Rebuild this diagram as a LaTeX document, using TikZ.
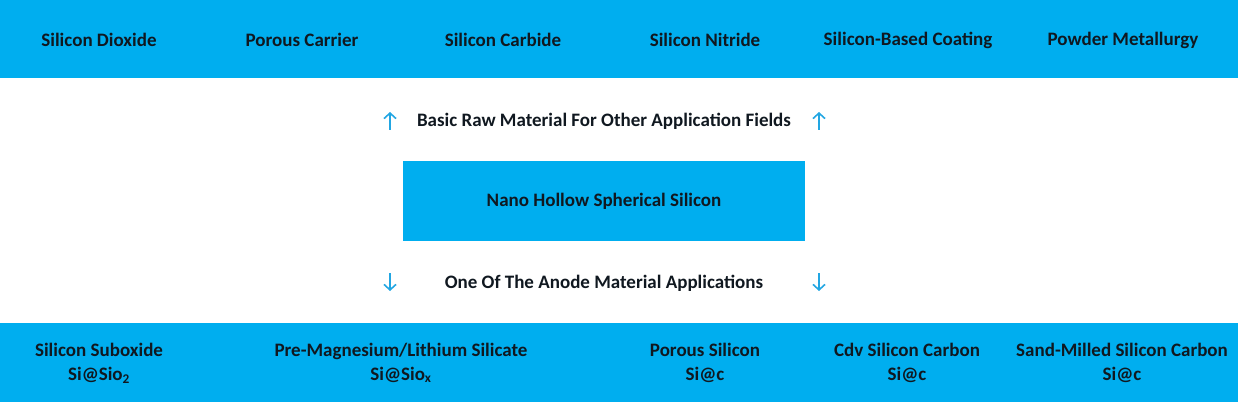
\documentclass[tikz,border=0pt]{standalone}
\usepackage{fontspec}
\setmainfont{Carlito}
\usetikzlibrary{arrows.meta}
\definecolor{band}{HTML}{00AEEF}
\definecolor{ink}{HTML}{101820}
\definecolor{arrowblue}{HTML}{22A6E2}
\tikzset{
  lbl/.style={font=\bfseries\fontsize{19}{24}\selectfont, text=ink, align=center, inner sep=0pt},
  arr/.style={arrowblue, line width=1.6pt, -{Straight Barb[length=5.5pt,width=12pt]}}
}
\begin{document}
\begin{tikzpicture}[x=1pt,y=1pt]
\useasboundingbox (0,0) rectangle (1238,402);
% bands and centre box
\fill[band] (0,324) rectangle (1238,402);
\fill[band] (0,0) rectangle (1238,79);
\node[fill=band, minimum width=402pt, minimum height=79pt, inner sep=0pt, lbl] (core) at (604,201) {Nano Hollow Spherical Silicon};
% top row
\foreach \x/\t [count=\i] in {99/Silicon Dioxide, 302/Porous Carrier, 503/Silicon Carbide, 705/Silicon Nitride, 908/Silicon-Based Coating, 1123/Powder Metallurgy}
\node[lbl] (top\i) at (\x,362) {\t};
% captions
\node[lbl] (up) at (604,281) {Basic Raw Material For Other Application Fields};
\node[lbl] (down) at (604,119) {One Of The Anode Material Applications};
% arrows
\foreach \x [count=\i] in {390,819} {
\coordinate (ua\i) at (\x,272);
\coordinate (ub\i) at (\x,290);
\draw[arr] (ua\i) -- (ub\i);
\coordinate (da\i) at (\x,129);
\coordinate (db\i) at (\x,111);
\draw[arr] (da\i) -- (db\i);
}
% bottom row
\foreach \x/\t/\f [count=\i] in {99/Silicon Suboxide/Si@Sio\textsubscript{2}, 401/Pre-Magnesium\slash Lithium Silicate/Si@Sio\textsubscript{x}, 705/Porous Silicon/Si@c, 907/Cdv Silicon Carbon/Si@c, 1122/Sand-Milled Silicon Carbon/Si@c}
\node[lbl] (bot\i) at (\x,39) {\t\\\f};
\end{tikzpicture}
\end{document}
